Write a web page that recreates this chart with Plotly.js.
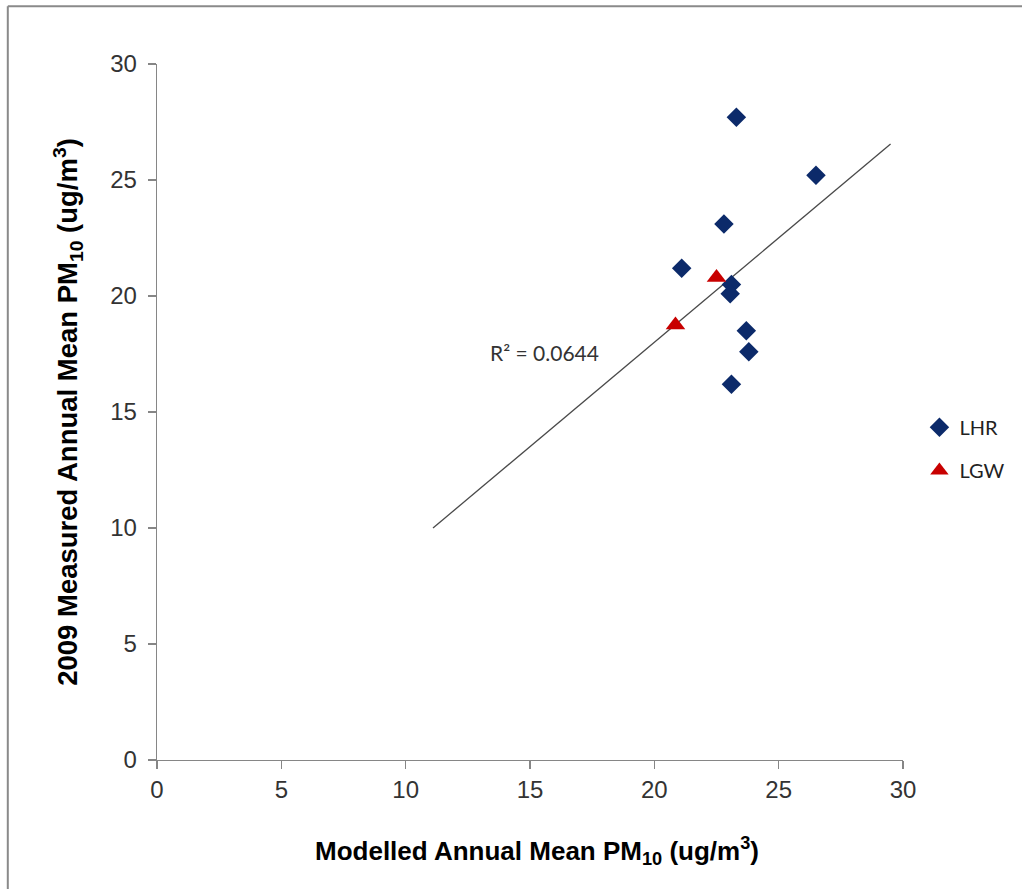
<!DOCTYPE html>
<html>
<head>
<meta charset="utf-8">
<script src="https://cdn.plot.ly/plotly-3.0.1.min.js"></script>
<style>
html,body{margin:0;padding:0;background:#fff;}
#chart{width:1022px;height:889px;}
</style>
</head>
<body>
<div id="chart"></div>
<script>
// LHR sites: modelled vs measured annual mean PM10
const lhrModelled = [23.3, 26.5, 22.8, 21.1, 23.1, 23.05, 23.7, 23.8, 23.1];
const lhrMeasured = [27.7, 25.2, 23.1, 21.2, 20.5, 20.1, 18.5, 17.6, 16.2];
// LGW sites
const lgwModelled = [22.5, 20.85];
const lgwMeasured = [20.8, 18.75];
// Linear trendline (through origin) endpoints
const trendX = [11.1, 29.5];
const trendY = [10.0, 26.55];
const r2Label = 'R² = 0.0644';
const xTitle = 'Modelled Annual Mean PM<sub>10</sub> (ug/m<sup>3</sup>)';
const yTitle = '2009 Measured Annual Mean PM<sub>10</sub> (ug/m<sup>3</sup>)';
const xTicks = [0, 5, 10, 15, 20, 25, 30];
const yTicks = [0, 5, 10, 15, 20, 25, 30];

const tickFont = {family: 'Liberation Sans, Arial, sans-serif', size: 24, color: '#333333'};
const titleFont = {family: 'Liberation Sans, Arial, sans-serif', size: 26, color: '#000000', weight: 'bold'};
const legFont = {family: 'Lato, Noto Sans, sans-serif', size: 20, color: '#222222'};

const traces = [
  {x: trendX, y: trendY, mode: 'lines', type: 'scatter', showlegend: false, hoverinfo: 'skip',
   line: {color: '#4a4a4a', width: 1.3}},
  {x: lhrModelled, y: lhrMeasured, mode: 'markers', type: 'scatter', name: 'LHR',
   marker: {symbol: 'diamond', size: 15, color: '#0c2a6a'}, legend: 'legend'},
  {x: lgwModelled, y: lgwMeasured, mode: 'markers', type: 'scatter', name: 'LGW',
   marker: {symbol: 'triangle-up', size: 17, color: '#c80000'}, legend: 'legend2'}
];

const layout = {
  width: 1022, height: 889,
  margin: {l: 157, r: 113, t: 64, b: 129},
  paper_bgcolor: '#ffffff', plot_bgcolor: '#ffffff',
  xaxis: {
    range: [0, 30], tickvals: xTicks, ticktext: xTicks.map(String),
    showgrid: false, zeroline: false, showline: true, linecolor: '#868686', linewidth: 1.3,
    ticks: 'outside', ticklen: 8, tickcolor: '#868686', tickwidth: 1.3,
    tickfont: tickFont
  },
  yaxis: {
    range: [0, 30], tickvals: yTicks, ticktext: yTicks.map(String),
    showgrid: false, zeroline: false, showline: true, linecolor: '#868686', linewidth: 1.3,
    ticks: 'outside', ticklen: 8, tickcolor: '#868686', tickwidth: 1.3,
    ticklabelstandoff: 6,
    tickfont: tickFont,
    title: {text: yTitle, font: Object.assign({}, titleFont, {size: 27.5}), standoff: 24}
  },
  legend: {x: 1.022, y: 0.478, xanchor: 'left', yanchor: 'middle', font: legFont, bgcolor: 'rgba(0,0,0,0)'},
  legend2: {x: 1.022, y: 0.416, xanchor: 'left', yanchor: 'middle', font: legFont, bgcolor: 'rgba(0,0,0,0)'},
  annotations: [
    {x: 15.6, y: 17.55, xref: 'x', yref: 'y', text: r2Label, showarrow: false,
     font: {family: 'Lato, Noto Sans, sans-serif', size: 21, color: '#333333'}},
    {x: 0.51, y: -0.131, xref: 'paper', yref: 'paper', xanchor: 'center', yanchor: 'middle',
     text: xTitle, showarrow: false, font: titleFont}
  ],
  shapes: [
    {type: 'line', xref: 'paper', yref: 'paper', x0: -0.2, x1: 1.3, y0: 1.083, y1: 1.083,
     line: {color: '#8a8a8a', width: 2}},
    {type: 'line', xref: 'paper', yref: 'paper', x0: -0.2, x1: -0.2, y0: -0.3, y1: 1.083,
     line: {color: '#8a8a8a', width: 2}}
  ]
};
Plotly.newPlot('chart', traces, layout, {displayModeBar: false, staticPlot: true});
</script>
</body>
</html>
